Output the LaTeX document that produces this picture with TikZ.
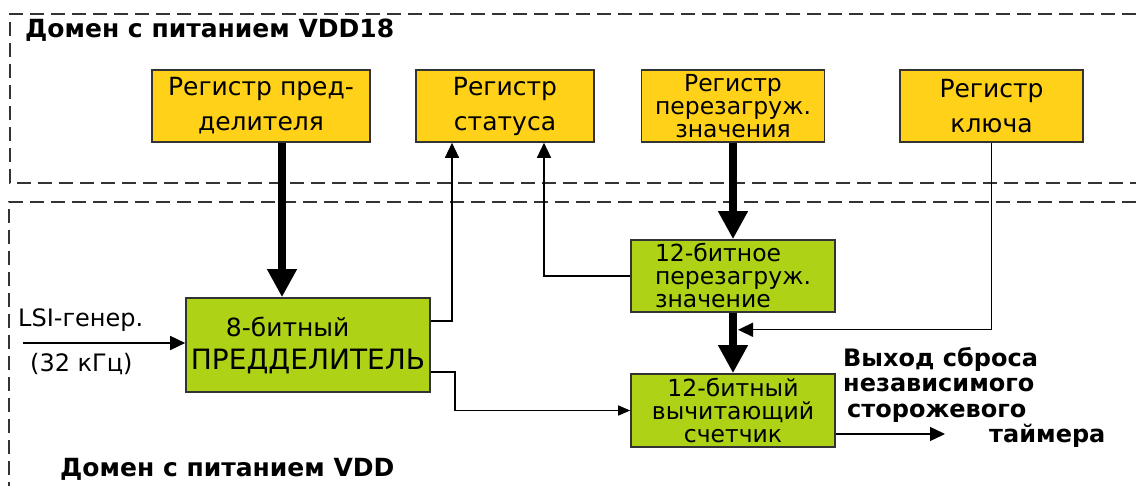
\documentclass[tikz,border=0pt]{standalone}
\usepackage{fontspec}
\setmainfont{DejaVu Sans}
\usetikzlibrary{arrows.meta,positioning}
\definecolor{regyellow}{RGB}{255,210,25}
\definecolor{blockgreen}{RGB}{174,211,22}
\definecolor{framegrey}{RGB}{51,51,51}

\begin{document}
\begin{tikzpicture}[x=1pt, y=-1pt,
  every node/.style={inner sep=0pt, font=\fontsize{25}{35}\selectfont},
  regbox/.style={draw=framegrey, line width=1.6pt, fill=regyellow, minimum height=72pt, align=center},
  blockbox/.style={draw=framegrey, line width=1.6pt, fill=blockgreen, font=\fontsize{23.5}{23}\selectfont},
  powerframe/.style={framegrey, line width=1.6pt, dash pattern=on 14pt off 7pt},
  domtitle/.style={font=\fontsize{25}{30}\selectfont\bfseries},
  sig/.style={line width=1.4pt, -{Triangle[length=15pt,width=14pt]}},
  bus/.style={line width=8pt, -{Triangle[length=28pt,width=28pt]}}]
  \useasboundingbox (0,0) rectangle (1136,486);
  % power domains
  \draw[powerframe] (1136,14) -- (10,14) -- (10,183) -- (1136,183);
  \draw[powerframe] (1136,202) -- (9,202) -- (9,486);
  \node[domtitle, anchor=base west] (dom18) at (25,38) {Домен с питанием VDD18};
  \node[domtitle, anchor=base west] (domvdd) at (60,476) {Домен с питанием VDD};
  % registers (VDD18)
  \node[regbox, minimum width=218pt] (regpred) at (261,106) {Регистр пред-\\делителя};
  \node[regbox, minimum width=178pt] (regstat) at (505,106) {Регистр\\статуса};
  \node[regbox, minimum width=183pt, font=\fontsize{23.5}{23}\selectfont] (regreload) at (733,106) {Регистр\\перезагруж.\\значения};
  \node[regbox, minimum width=183pt] (regkey) at (991.5,106) {Регистр\\ключа};
  % blocks (VDD)
  \node[blockbox, minimum width=244pt, minimum height=94pt, align=left, font=\fontsize{25}{33}\selectfont] (presc) at (308,345)
    {\hspace*{35pt}8-битный\\{\fontsize{28}{33}\selectfont ПРЕДДЕЛИТЕЛЬ}};
  \node[blockbox, minimum width=204pt, minimum height=72pt, align=left] (reload) at (733,276) {12-битное\\перезагруж.\\значение};
  \node[blockbox, minimum width=204pt, minimum height=73pt, align=center] (counter) at (733,410.5) {12-битный\\вычитающий\\счетчик};
  % clock input
  \coordinate (lsi) at (23,343);
  \node[anchor=base west, font=\fontsize{24}{30}\selectfont] (lsitxt) at (18,327) {LSI-генер.};
  \node[anchor=base west, font=\fontsize{24}{30}\selectfont] (freqtxt) at (30,372) {(32 кГц)};
  \draw[sig] (lsi) -- (lsi -| presc.west);
  % data paths
  \draw[bus] ([xshift=21pt]regpred.south) -- ([xshift=21pt]regpred.south |- presc.north);
  \draw[bus] (regreload.south) -- (reload.north);
  \draw[bus] (reload.south) -- (counter.north);
  \draw[sig] ([yshift=-24pt]presc.north east) -| ([xshift=-53pt]regstat.south);
  \draw[sig] (reload.west) -| ([xshift=39pt]regstat.south);
  \draw[sig] (regkey.south) |- ([xshift=5pt,yshift=-17pt]reload.south);
  \draw[sig, -{Triangle[length=12pt,width=10pt]}] ([yshift=-27pt]presc.east) -- ++(24,0) |- (counter.west);
  % reset output
  \coordinate (wdgout) at (945,434);
  \draw[sig] (counter.east |- wdgout) -- (wdgout);
  \node[anchor=north west, align=left, font=\fontsize{24}{25.5}\selectfont\bfseries] (wdgtxt) at (843,347)
    {Выход сброса\\независимого\\\hspace*{4pt}сторожевого\\\hspace*{146pt}таймера};
\end{tikzpicture}
\end{document}
